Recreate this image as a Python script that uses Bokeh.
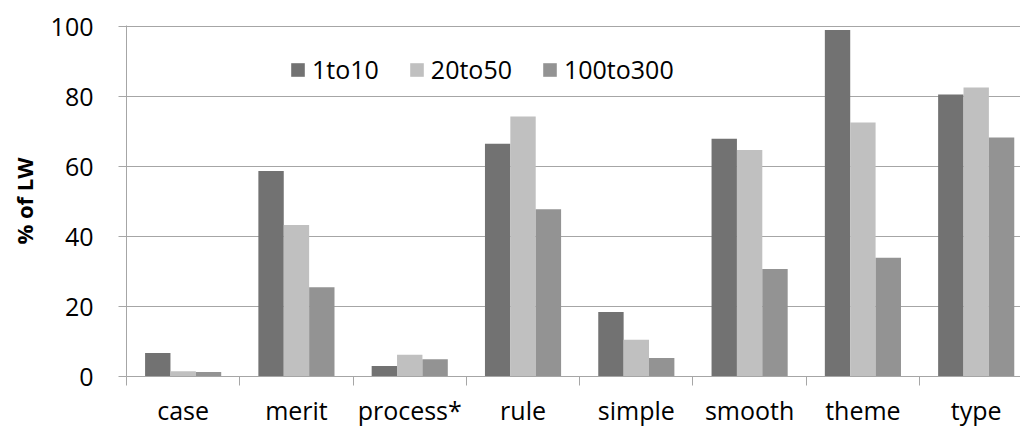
from bokeh.plotting import figure
from bokeh.models import (ColumnDataSource, Range1d, FixedTicker, CustomJSTickFormatter,
                          Legend, LegendItem)
from bokeh.transform import dodge
from bokeh.embed import file_html
from bokeh.resources import INLINE

categories = ["case", "merit", "process*", "rule", "simple", "smooth", "theme", "type"]
s_1to10 = [6.7, 58.7, 3.0, 66.5, 18.4, 67.9, 99.0, 80.6]
s_20to50 = [1.5, 43.3, 6.2, 74.3, 10.5, 64.7, 72.6, 82.6]
s_100to300 = [1.3, 25.5, 4.9, 47.8, 5.3, 30.7, 33.9, 68.3]
series_names = ["1to10", "20to50", "100to300"]
colors = ["#727272", "#c0c0c0", "#939393"]
y_ticks = [0, 20, 40, 60, 80, 100]

FONT = "Open Sans"
FS = "25px"

src = ColumnDataSource(dict(
    pos=[i + 0.5 for i in range(len(categories))],
    cat=categories,
    a=s_1to10, b=s_20to50, c=s_100to300,
))

p = figure(width=1020, height=429, output_backend="svg", toolbar_location=None,
           x_range=Range1d(0, 7.891), y_range=Range1d(0, 100.29),
           min_border_left=126, min_border_right=0, min_border_top=25, min_border_bottom=53)
p.outline_line_color = None
p.background_fill_color = "white"

bw = 0.224
renderers = []
for col, off, color in zip(["a", "b", "c"], [-bw, 0, bw], colors):
    r = p.vbar(x=dodge("pos", off, range=p.x_range), top=col, width=bw, bottom=0,
               source=src, fill_color=color, line_color=None)
    renderers.append(r)

grid_col = "#a6a6a6"
p.xgrid.visible = False
p.ygrid.grid_line_color = grid_col
p.ygrid.ticker = FixedTicker(ticks=y_ticks)

yax = p.yaxis[0]
yax.ticker = FixedTicker(ticks=y_ticks, minor_ticks=[])
yax.axis_line_color = grid_col
yax.major_tick_line_color = grid_col
yax.major_tick_out = 8
yax.major_tick_in = 0
yax.minor_tick_line_color = None
yax.major_label_text_font = FONT
yax.major_label_text_font_size = FS
yax.major_label_text_color = "black"
yax.major_label_standoff = 25
yax.axis_label = "% of LW"
yax.axis_label_text_font = FONT
yax.axis_label_text_font_size = "22px"
yax.axis_label_text_font_style = "bold"
yax.axis_label_text_color = "black"
yax.axis_label_standoff = 9

xax = p.xaxis[0]
xax.ticker = FixedTicker(ticks=[i + 0.5 for i in range(len(categories))],
                         minor_ticks=list(range(0, len(categories) + 1)))
xax.formatter = CustomJSTickFormatter(args=dict(labels=categories),
                                      code="return labels[Math.round(tick - 0.5)] || '';")
xax.axis_line_color = grid_col
xax.major_tick_line_color = None
xax.major_tick_out = 9
xax.major_tick_in = 0
xax.minor_tick_line_color = grid_col
xax.minor_tick_out = 9
xax.minor_tick_in = 0
xax.major_label_text_font = FONT
xax.major_label_text_font_size = FS
xax.major_label_text_color = "black"
xax.major_label_standoff = 7

legend = Legend(items=[LegendItem(label=n, renderers=[r]) for n, r in zip(series_names, renderers)],
                location=(163, 290), orientation="horizontal",
                glyph_width=17, glyph_height=17, label_standoff=6, spacing=29,
                padding=0, margin=0, border_line_color=None, background_fill_alpha=0,
                label_text_font=FONT, label_text_font_size=FS, label_text_color="black")
p.add_layout(legend)

open("out.html", "w").write(file_html(p, INLINE))
